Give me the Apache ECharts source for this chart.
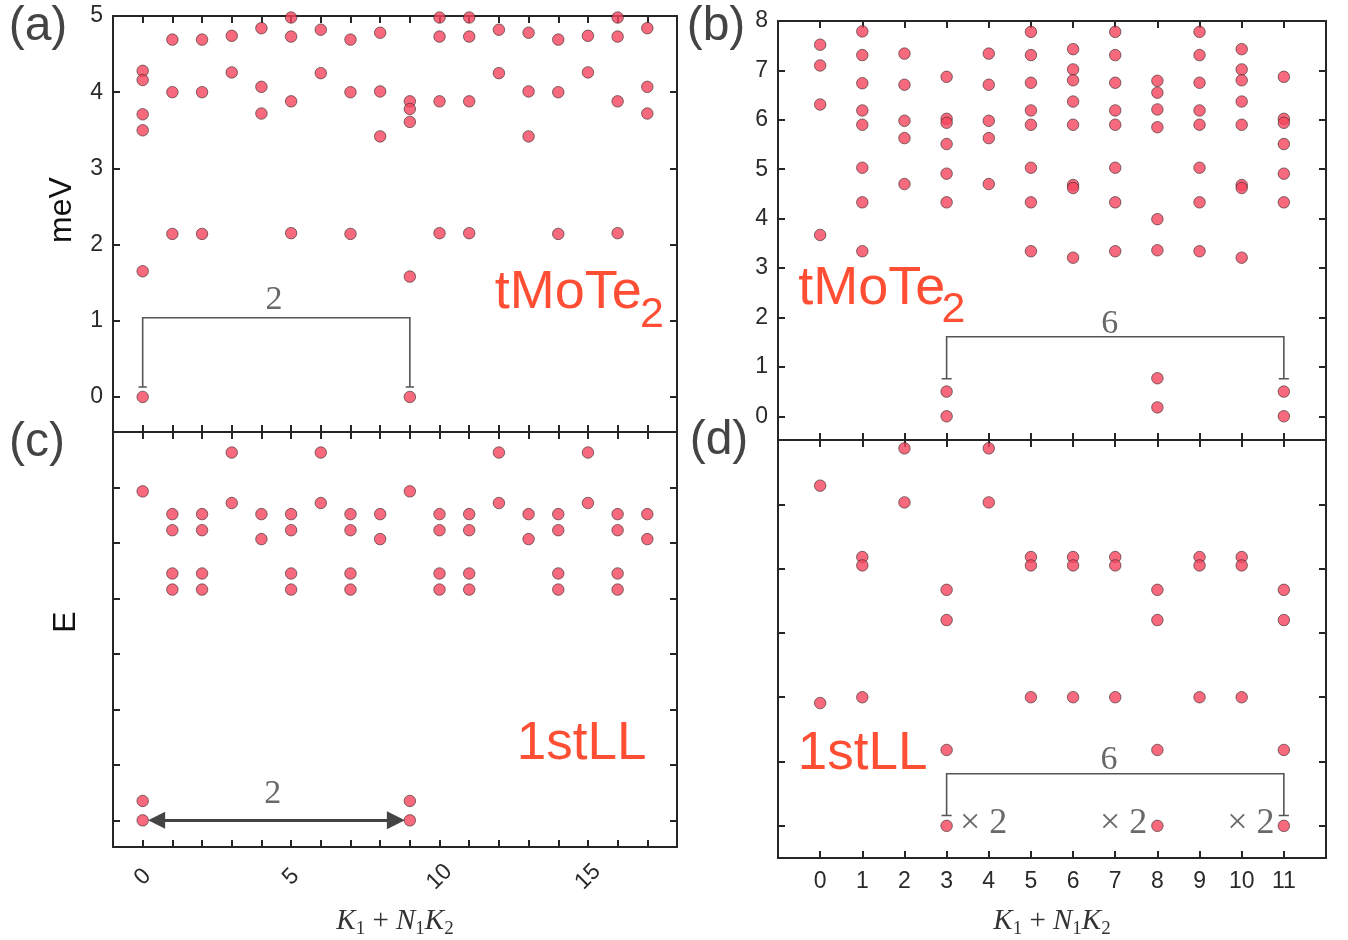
<!DOCTYPE html>
<html>
<head>
<meta charset="utf-8">
<script src="https://cdn.jsdelivr.net/npm/echarts@6/dist/echarts.min.js"></script>
<style>
html, body { margin: 0; padding: 0; background: #fff; }
#main { width: 1348px; height: 940px; }
</style>
</head>
<body>
<div id="main"></div>
<script>
// energy levels for each momentum sector k = K1 + N1*K2 (index = k)
var levelsA = [ // (a) tMoTe2, meV
  [4.28, 4.16, 3.71, 3.50, 1.65, 0], [4.69, 4.00, 2.14], [4.69, 4.00, 2.14],
  [4.74, 4.26], [4.84, 4.07, 3.72], [4.98, 4.73, 3.88, 2.15], [4.82, 4.25],
  [4.69, 4.00, 2.14], [4.78, 4.01, 3.42], [3.88, 3.78, 3.61, 1.58, 0],
  [4.98, 4.73, 3.88, 2.15], [4.98, 4.73, 3.88, 2.15], [4.82, 4.25],
  [4.78, 4.01, 3.42], [4.69, 4.00, 2.14], [4.74, 4.26],
  [4.98, 4.73, 3.88, 2.15], [4.84, 4.07, 3.72]
];
var levelsC = [ // (c) 1st LL, arbitrary units
  [5.93, 0.35, 0], [5.52, 5.23, 4.45, 4.16], [5.52, 5.23, 4.45, 4.16],
  [6.63, 5.72], [5.52, 5.07], [5.52, 5.23, 4.45, 4.16], [6.63, 5.72],
  [5.52, 5.23, 4.45, 4.16], [5.52, 5.07], [5.93, 0.35, 0],
  [5.52, 5.23, 4.45, 4.16], [5.52, 5.23, 4.45, 4.16], [6.63, 5.72],
  [5.52, 5.07], [5.52, 5.23, 4.45, 4.16], [6.63, 5.72],
  [5.52, 5.23, 4.45, 4.16], [5.52, 5.07]
];
var levelsB = [ // (b) tMoTe2, meV
  [7.52, 7.10, 6.31, 3.67],
  [7.79, 7.31, 6.74, 6.19, 5.90, 5.03, 4.33, 3.34],
  [7.34, 6.71, 5.98, 5.63, 4.70],
  [6.87, 6.02, 5.94, 5.51, 4.91, 4.33, 0.50, 0],
  [7.34, 6.71, 5.98, 5.63, 4.70],
  [7.78, 7.31, 6.75, 6.19, 5.90, 5.03, 4.33, 3.34],
  [7.43, 7.02, 6.80, 6.37, 5.90, 4.68, 4.62, 3.21],
  [7.78, 7.31, 6.75, 6.19, 5.90, 5.03, 4.33, 3.34],
  [6.79, 6.55, 6.21, 5.85, 3.99, 3.36, 0.77, 0.18],
  [7.78, 7.31, 6.75, 6.19, 5.90, 5.03, 4.33, 3.34],
  [7.43, 7.02, 6.80, 6.37, 5.90, 4.68, 4.62, 3.21],
  [6.87, 6.02, 5.94, 5.51, 4.91, 4.33, 0.50, 0]
];
var levelsD = [ // (d) 1st LL
  [5.29, 1.91], [4.18, 4.05, 2.00], [5.87, 5.03], [3.67, 3.20, 1.18, 0],
  [5.87, 5.03], [4.18, 4.05, 2.00], [4.18, 4.05, 2.00], [4.18, 4.05, 2.00],
  [3.67, 3.20, 1.18, 0], [4.18, 4.05, 2.00], [4.18, 4.05, 2.00],
  [3.67, 3.20, 1.18, 0]
];

// tick values and labels
var yLabelsA = [0, 1, 2, 3, 4, 5];
var yLabelsB = [0, 1, 2, 3, 4, 5, 6, 7, 8];
var yTicksC = [0, 1, 2, 3, 4, 5, 6];
var yTicksD = [0, 1, 2, 3, 4, 5];
var kTicks18 = [0, 1, 2, 3, 4, 5, 6, 7, 8, 9, 10, 11, 12, 13, 14, 15, 16, 17];
var kTicks12 = [0, 1, 2, 3, 4, 5, 6, 7, 8, 9, 10, 11];
var xLabelsC = [0, 5, 10, 15];

// degeneracy brackets and arrow (annotation geometry in data units)
var bracketA = [[0, 0.13], [0, 1.04], [9, 1.04], [9, 0.13]];
var bracketB = [[3, 0.76], [3, 1.61], [11, 1.61], [11, 0.76]];
var bracketD = [[3, 0.16], [3, 0.81], [11, 0.81], [11, 0.16]];
var arrowC = [[0.47, 0], [8.53, 0]];

function toPoints(levels) {
  var out = [];
  levels.forEach(function (ys, k) {
    ys.forEach(function (y) { out.push([k, y]); });
  });
  return out;
}

var axisColor = '#262626';
var labelFont = { fontFamily: 'Liberation Sans', fontSize: 23, color: '#2a2a2a' };

var grids = [
  { left: 113, top: 16, width: 564, height: 416 },   // a
  { left: 778, top: 21, width: 548, height: 419 },   // b
  { left: 113, top: 432, width: 564, height: 419 },  // c
  { left: 778, top: 440, width: 548, height: 421 }   // d
];

var xAxes = [], yAxes = [];
function box(g, xr, yr, xt, yt, xl, yl, xExtra, yExtra) {
  var line = { show: true, onZero: false, lineStyle: { color: axisColor, width: 2 } };
  var tick = function (vals) {
    return { show: true, inside: true, length: 7, customValues: vals, lineStyle: { color: axisColor, width: 2 } };
  };
  var xb = {
    type: 'value', gridIndex: g, min: xr[0], max: xr[1], position: 'bottom',
    axisLine: line, axisTick: tick(xt), splitLine: { show: false },
    axisLabel: xl ? Object.assign({ show: true, customValues: xl, margin: 12 }, labelFont) : { show: false }
  };
  Object.assign(xb, xExtra || {});
  xAxes.push(xb);
  xAxes.push({
    type: 'value', gridIndex: g, min: xr[0], max: xr[1], position: 'top',
    axisLine: line, axisTick: tick(xt), splitLine: { show: false }, axisLabel: { show: false }
  });
  var yl0 = {
    type: 'value', gridIndex: g, min: yr[0], max: yr[1], position: 'left',
    axisLine: line, axisTick: tick(yt), splitLine: { show: false },
    axisLabel: yl ? Object.assign({ show: true, customValues: yl, margin: 10 }, labelFont) : { show: false }
  };
  Object.assign(yl0, yExtra || {});
  yAxes.push(yl0);
  yAxes.push({
    type: 'value', gridIndex: g, min: yr[0], max: yr[1], position: 'right',
    axisLine: line, axisTick: tick(yt), splitLine: { show: false }, axisLabel: { show: false }
  });
}

var kName = '{i|K}{s|1}{o| + }{i|N}{s|1}{i|K}{s|2}';
var kRich = {
  i: { fontFamily: 'Liberation Serif', fontStyle: 'italic', fontSize: 29, color: '#333' },
  o: { fontFamily: 'Liberation Serif', fontSize: 29, color: '#333' },
  s: { fontFamily: 'Liberation Serif', fontSize: 19, color: '#333', padding: [17, 0, 0, 0] }
};

box(0, [-1, 18], [-0.46, 5], kTicks18, yLabelsA, null, yLabelsA);
box(1, [-1, 12], [-0.48, 8], kTicks12, yLabelsB, null, yLabelsB);
box(2, [-1, 18], [-0.48, 7], kTicks18, yTicksC, xLabelsC, null, {
  axisLabel: Object.assign({ show: true, customValues: xLabelsC, rotate: 45, margin: 30,
    align: 'center', verticalAlign: 'middle' }, labelFont),
  name: kName, nameLocation: 'middle', nameGap: 56, nameTextStyle: { rich: kRich }
});
box(3, [-1, 12], [-0.5, 6], kTicks12, yTicksD, kTicks12, null, {
  name: kName, nameLocation: 'middle', nameGap: 45, nameTextStyle: { rich: kRich }
});

var series = [];
function dots(g, levels) {
  series.push({
    type: 'scatter', xAxisIndex: 2 * g, yAxisIndex: 2 * g, clip: false, z: 5,
    symbol: 'circle', symbolSize: 11.5,
    itemStyle: { color: '#f5455e', borderColor: '#3a2a2a', borderWidth: 0.8 },
    data: toPoints(levels)
  });
}
dots(0, levelsA); dots(1, levelsB); dots(2, levelsC); dots(3, levelsD);

function bracket(g, pts, cap) {
  var a = pts[0], b = pts[pts.length - 1];
  series.push({
    type: 'lines', coordinateSystem: 'cartesian2d', xAxisIndex: 2 * g, yAxisIndex: 2 * g,
    polyline: true, silent: true, z: 3,
    lineStyle: { color: '#555', width: 1.6, opacity: 1 },
    data: [
      { coords: pts },
      { coords: [[a[0] - cap, a[1]], [a[0] + cap, a[1]]] },
      { coords: [[b[0] - cap, b[1]], [b[0] + cap, b[1]]] }
    ]
  });
}
bracket(0, bracketA, 0.14);
bracket(1, bracketB, 0.12);
bracket(3, bracketD, 0.12);

series.push({
  type: 'lines', coordinateSystem: 'cartesian2d', xAxisIndex: 4, yAxisIndex: 4,
  silent: true, z: 4, symbol: ['triangle', 'triangle'], symbolSize: [17, 18],
  lineStyle: { color: '#444', width: 3, opacity: 1 },
  data: [{ coords: arrowC }]
});

// text annotations placed in data coordinates
function texts(g, items, style) {
  series.push({
    type: 'scatter', xAxisIndex: 2 * g, yAxisIndex: 2 * g, clip: false, silent: true, z: 6,
    symbol: 'circle', symbolSize: 1, itemStyle: { color: 'rgba(0,0,0,0)' },
    label: Object.assign({ show: true, position: 'inside', formatter: '{b}', verticalAlign: 'middle' }, style),
    data: items.map(function (t) { return { name: t[0], value: [t[1], t[2]] }; })
  });
}
var serif = { fontFamily: 'Liberation Serif', fontSize: 34, color: '#444', align: 'center' };
var red = { fontFamily: 'Liberation Sans', fontSize: 54, color: '#ff2200', align: 'left' };
var redSub = { fontFamily: 'Liberation Sans', fontSize: 43, color: '#ff2200', align: 'left' };
var red2 = { fontFamily: 'Liberation Sans', fontSize: 53, color: '#ff2200', align: 'left' };

texts(0, [['2', 4.42, 1.27]], serif);
texts(0, [['tMoTe', 11.86, 1.36]], red);
texts(0, [['2', 16.75, 1.08]], redSub);
texts(1, [['6', 6.87, 1.86]], serif);
texts(1, [['tMoTe', -0.52, 2.58]], red);
texts(1, [['2', 2.88, 2.15]], redSub);
texts(2, [['2', 4.38, 0.47]], serif);
texts(2, [['1stLL', 12.6, 1.37]], red2);
texts(3, [['6', 6.85, 1.03]], serif);
texts(3, [['1stLL', -0.53, 1.11]], red2);
texts(3, [['× 2', 3.88, 0.03], ['× 2', 7.2, 0.03], ['× 2', 10.22, 0.03]],
  { fontFamily: 'Liberation Serif', fontSize: 36, color: '#444', align: 'center' });

var panelFont = '48px "Liberation Sans"';
function tag(txt, x, y) {
  return { type: 'text', x: x, y: y, style: { text: txt, font: panelFont, fill: '#444', align: 'center', verticalAlign: 'middle' } };
}

var chart = echarts.init(document.getElementById('main'));
chart.setOption({
  backgroundColor: '#fff',
  animation: false,
  grid: grids,
  xAxis: xAxes,
  yAxis: yAxes,
  series: series,
  graphic: [
    tag('(a)', 38, 27), tag('(b)', 716, 27), tag('(c)', 37, 443), tag('(d)', 719, 441),
    { type: 'text', x: 62, y: 210, rotation: Math.PI / 2,
      style: { text: 'meV', font: '32px "Liberation Sans"', fill: '#111', align: 'center', verticalAlign: 'middle' } },
    { type: 'text', x: 66, y: 622, rotation: Math.PI / 2,
      style: { text: 'E', font: '32px "Liberation Sans"', fill: '#111', align: 'center', verticalAlign: 'middle' } }
  ]
});
</script>
</body>
</html>
